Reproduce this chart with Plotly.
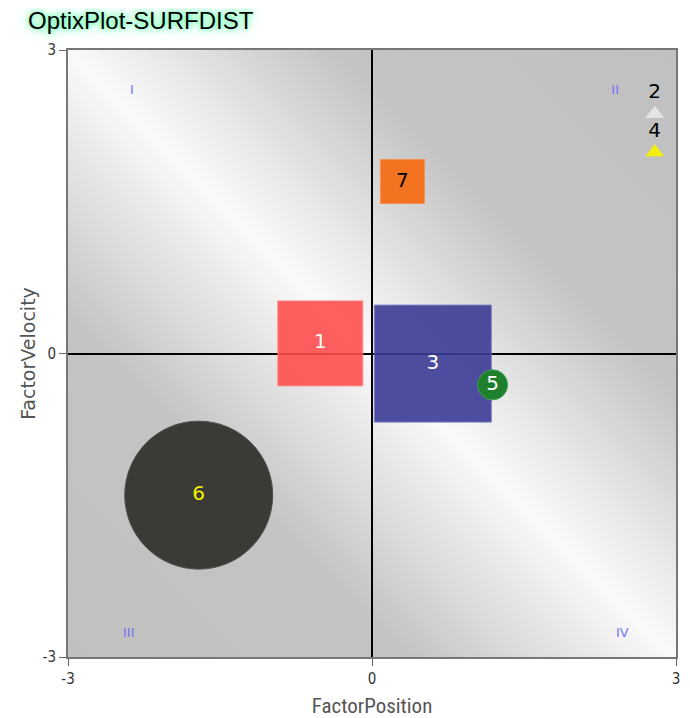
import plotly.graph_objects as go

# ---- data ----
labels = ["6", "1", "3", "5", "7", "2", "4"]
factor_position = [-1.71, -0.51, 0.60, 1.19, 0.30, 2.79, 2.79]
factor_velocity = [-1.40, 0.10, -0.10, -0.31, 1.70, 2.37, 1.99]
bubble_size = [148, 85, 117, 30, 44, 15, 15]
shapes_kind = ["circle", "square", "square", "circle", "square", "triangle-up", "triangle-up"]
fill_colors = ["#3a3a36", "#ff4a4a", "#3c3c98", "#1e7f2c", "#f47320", "#e4e4e4", "#f2ee10"]
edge_colors = ["#505050", "#ff8080", "#7070c0", "#3da050", "#f89050", "#e4e4e4", "#f2ee10"]
fill_opacity = [1.0, 0.88, 0.9, 1.0, 1.0, 1.0, 1.0]
label_colors = ["#f2f000", "white", "white", "white", "black", "black", "black"]
label_pos = ["middle center"] * 5 + ["top center"] * 2

quadrant_names = ["I", "II", "III", "IV"]
quadrant_x = [-2.37, 2.40, -2.40, 2.47]
quadrant_y = [2.60, 2.60, -2.77, -2.77]

tick_values = [-3, 0, 3]
tick_labels = ["-3", "0", "3"]

bg_svg = (
    "data:image/svg+xml;utf8,"
    "<svg xmlns='http://www.w3.org/2000/svg' width='100' height='100' preserveAspectRatio='none'>"
    "<defs><linearGradient id='g' x1='0' y1='1' x2='1' y2='0'>"
    "<stop offset='0' stop-color='%23c0c0c0'/>"
    "<stop offset='0.28' stop-color='%23c4c4c4'/>"
    "<stop offset='0.5' stop-color='%23fafafa'/>"
    "<stop offset='0.72' stop-color='%23c4c4c4'/>"
    "<stop offset='1' stop-color='%23c0c0c0'/>"
    "</linearGradient></defs>"
    "<rect width='100' height='100' fill='url(%23g)'/></svg>"
)

fig = go.Figure()

fig.add_trace(go.Scatter(
    x=quadrant_x, y=quadrant_y, mode="text", text=quadrant_names,
    textfont=dict(family="DejaVu Sans", size=13, color="#7474f2"),
    hoverinfo="skip", showlegend=False,
))

fig.add_trace(go.Scatter(
    x=factor_position, y=factor_velocity, mode="markers+text",
    text=labels, textposition=label_pos,
    textfont=dict(family="DejaVu Sans", size=20, color=label_colors),
    marker=dict(symbol=shapes_kind, size=bubble_size, color=fill_colors,
                opacity=fill_opacity, line=dict(color=edge_colors, width=1)),
    showlegend=False,
))

axis_common = dict(
    range=[-3, 3], tickvals=tick_values, ticktext=tick_labels, ticks="outside", ticklen=7,
    tickcolor="#666", showgrid=False, zeroline=True, zerolinecolor="black",
    zerolinewidth=1.5, showline=True, linecolor="#777", linewidth=2,
    mirror=True, automargin=False,
    tickfont=dict(family="DejaVu Sans Condensed, DejaVu Sans", size=15, color="#333"),
)

fig.update_xaxes(**axis_common,
                 title=dict(text="FactorPosition", standoff=12,
                            font=dict(family="Roboto Condensed, Liberation Sans Narrow, DejaVu Sans Condensed", size=21, color="#555")))
fig.update_yaxes(**axis_common,
                 title=dict(text="FactorVelocity", standoff=2,
                            font=dict(family="DejaVu Sans", size=19, color="#555")))

fig.update_layout(
    width=682, height=710,
    margin=dict(l=60, r=14, t=42, b=61),
    paper_bgcolor="white", plot_bgcolor="#d0d0d0",
    title=dict(text="OptixPlot-SURFDIST", x=20 / 682, xanchor="left",
               y=1 - 13 / 710, yanchor="middle",
               font=dict(family="Liberation Sans, Arial", size=24, color="black",
                         shadow="0 0 5px #6dffb0, 0 0 9px #7dffb8, 0 0 14px #a8ffd0")),
    images=[dict(source=bg_svg, xref="x", yref="y", x=-3, y=3, sizex=6, sizey=6,
                 sizing="stretch", layer="below", xanchor="left", yanchor="top")],
)

fig.write_html("out.html")
